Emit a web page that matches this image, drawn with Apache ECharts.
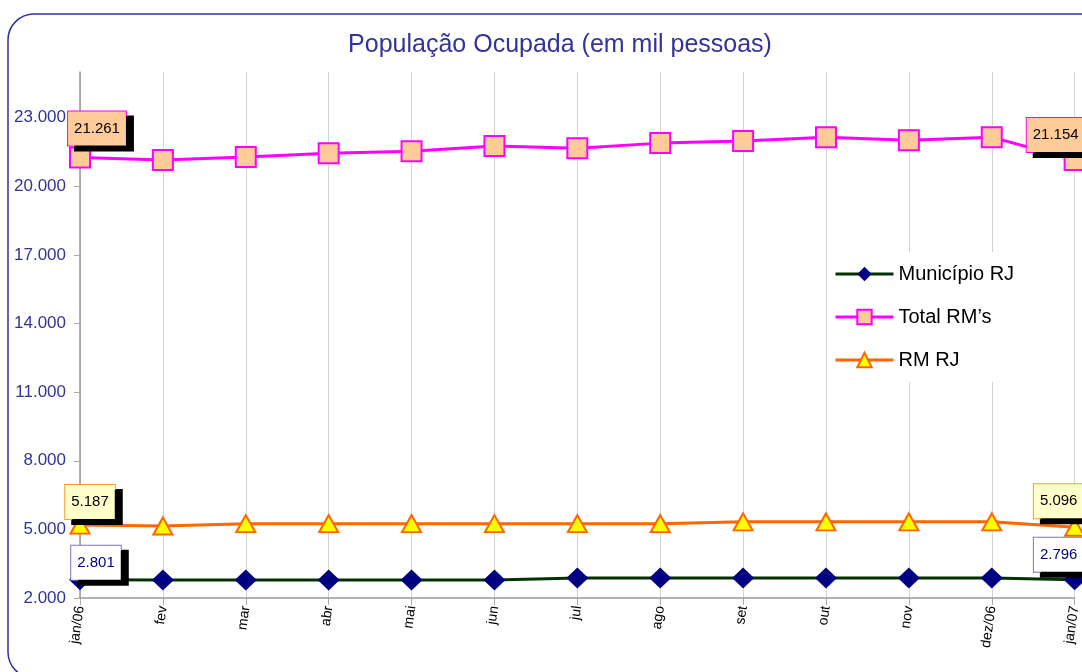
<!DOCTYPE html>
<html>
<head>
<meta charset="utf-8">
<style>
html,body{margin:0;padding:0;background:#fff;}
#chart{width:1082px;height:672px;}
</style>
<script src="https://cdn.jsdelivr.net/npm/echarts@6/dist/echarts.min.js"></script>
</head>
<body>
<div id="chart"></div>
<script>
const categories = ['jan/06','fev','mar','abr','mai','jun','jul','ago','set','out','nov','dez/06','jan/07'];
const municipioRJ = [2801,2790,2790,2785,2785,2790,2870,2870,2870,2870,2870,2870,2796];
const totalRMs = [21261,21150,21280,21450,21540,21760,21670,21890,21980,22150,22020,22150,21154];
const rmRJ = [5187,5150,5250,5250,5250,5250,5250,5250,5330,5330,5330,5330,5096];
const yTickValues = [2000,5000,8000,11000,14000,17000,20000,23000];
const yRange = {min:2000, max:25000};

const FONT = '"Liberation Sans", Arial, sans-serif';
const fmt = v => String(v).replace(/\B(?=(\d{3})+(?!\d))/g, '.');

function labeled(values, style, offFirst, offLast) {
  return values.map((v, i) => {
    if (i === 0 || i === values.length - 1) {
      return {
        value: v,
        label: Object.assign({
          show: true,
          position: 'inside',
          offset: i === 0 ? offFirst : offLast,
          formatter: p => fmt(p.value),
          fontFamily: FONT,
          fontSize: 15,
          padding: [10, 6, 9, 6],
          borderWidth: 1,
          shadowColor: '#000',
          shadowBlur: 0,
          shadowOffsetX: 7,
          shadowOffsetY: 5
        }, style)
      };
    }
    return v;
  });
}

const chart = echarts.init(document.getElementById('chart'), null, {renderer: 'canvas'});
chart.setOption({
  animation: false,
  backgroundColor: '#fff',
  title: {
    text: 'População Ocupada (em mil pessoas)',
    left: 555, top: 28, textAlign: 'center',
    textStyle: {color: '#333399', fontFamily: FONT, fontSize: 25, fontWeight: 'normal'}
  },
  graphic: [{
    type: 'rect', silent: true, z: -1,
    shape: {x: 8, y: 14, width: 1110, height: 664, r: 26},
    style: {fill: 'none', stroke: '#333399', lineWidth: 1.5}
  }],
  legend: {
    orient: 'vertical',
    left: 828, top: 252,
    padding: [12, 8, 12, 6],
    backgroundColor: '#fff',
    itemWidth: 58, itemHeight: 18, itemGap: 23,
    lineStyle: {width: 3},
    textStyle: {fontFamily: FONT, fontSize: 20, color: '#000'},
    data: ['Município RJ', 'Total RM\u2019s', 'RM RJ']
  },
  grid: {left: 80, right: 4, top: 72, bottom: 74, containLabel: false},
  xAxis: {
    type: 'category',
    data: categories,
    boundaryGap: false,
    axisLine: {lineStyle: {color: '#999', width: 1.5}},
    axisTick: {show: true, length: 7, lineStyle: {color: '#aaa'}},
    axisLabel: {rotate: 82, fontSize: 14, color: '#000', fontFamily: FONT, margin: 8, interval: 0},
    splitLine: {show: true, lineStyle: {color: '#d4d4d4', width: 1}}
  },
  yAxis: {
    type: 'value',
    min: yRange.min, max: yRange.max,
    axisLine: {show: true, lineStyle: {color: '#999', width: 1.5}},
    axisTick: {show: true, length: 6, lineStyle: {color: '#aaa'}, customValues: yTickValues},
    axisLabel: {
      color: '#333399', fontFamily: FONT, fontSize: 17, margin: 14,
      customValues: yTickValues,
      formatter: v => fmt(v)
    },
    splitLine: {show: false}
  },
  series: [
    {
      name: 'Município RJ', type: 'line',
      data: labeled(municipioRJ, {color: '#000080', backgroundColor: '#fff', borderColor: '#7777bb'}, [16, -17], [-16, -25]),
      symbol: 'diamond', symbolSize: [22, 21],
      lineStyle: {color: '#003300', width: 3},
      itemStyle: {color: '#000080', borderColor: '#000080', borderWidth: 0},
      z: 3
    },
    {
      name: 'Total RM\u2019s', type: 'line',
      data: labeled(totalRMs, {color: '#000', backgroundColor: '#FFCC99', borderColor: '#FF00FF'}, [17, -29], [-19, -25]),
      symbol: 'rect', symbolSize: 20,
      lineStyle: {color: '#FF00FF', width: 3},
      itemStyle: {color: '#FFCC99', borderColor: '#FF00FF', borderWidth: 2},
      z: 3
    },
    {
      name: 'RM RJ', type: 'line',
      data: labeled(rmRJ, {color: '#000', backgroundColor: '#FFFFCC', borderColor: '#FF9933'}, [10, -23], [-16, -26]),
      symbol: 'triangle', symbolSize: [19, 17],
      lineStyle: {color: '#FF6600', width: 3},
      itemStyle: {color: '#FFFF00', borderColor: '#FF6600', borderWidth: 2},
      z: 3
    }
  ]
});
</script>
</body>
</html>
